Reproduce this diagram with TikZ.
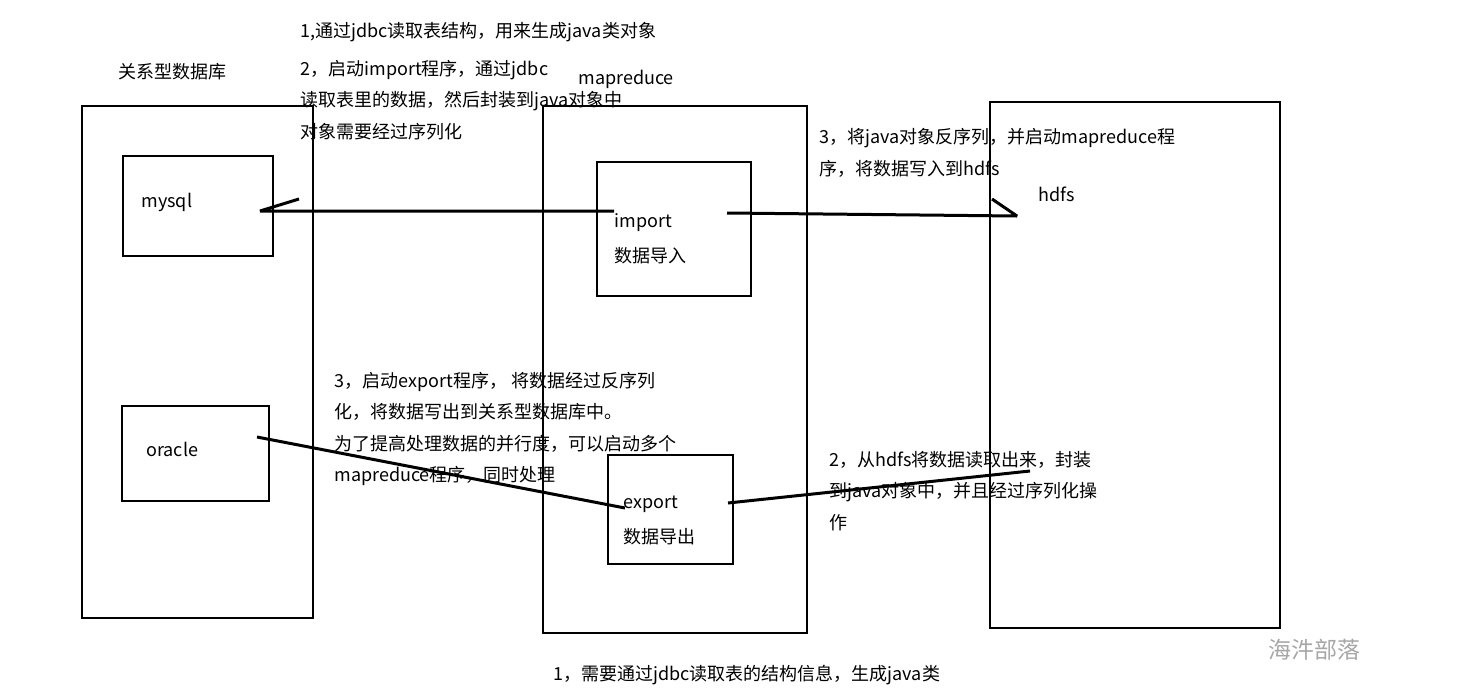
\documentclass[tikz,border=0pt]{standalone}
\usepackage{fontspec}
\setmainfont{Noto Sans CJK SC}
\usetikzlibrary{positioning}
\begin{document}
\begin{tikzpicture}[x=0.5pt,y=-0.5pt,
    font=\fontsize{9}{15.8}\selectfont,
    frame/.style={line width=1.4pt},
    link/.style={line width=1.5pt, line join=bevel},
    txt/.style={anchor=west, inner sep=0pt, align=left},
    wmark/.style={txt, text=black!35, font=\fontsize{11.5}{13}\selectfont}
]
\useasboundingbox (0,0) rectangle (1462,697);

% containers
\draw[frame] (82,106) rectangle (313,618);
\draw[frame] (543,106) rectangle (807,633);
\draw[frame] (990,102) rectangle (1280,628);
\draw[frame] (123,156) rectangle (273,256);
\draw[frame] (122,406) rectangle (269,501);
\draw[frame] (597,162) rectangle (751,296);
\draw[frame] (608,455) rectangle (733,564);

% labels
\node[txt] (rdb) at (118,72) {关系型数据库};
\node[txt] (mr) at (578,79) {mapreduce};
\node[txt] (mysql) at (141,202) {mysql};
\node[txt] (oracle) at (146,449) {oracle};
\node[txt] (imp) at (614,223) {import};
\node[txt] (impcn) at (614,256) {数据导入};
\node[txt] (exp) at (623,504) {export};
\node[txt] (expcn) at (623,537) {数据导出};
\node[txt] (hdfs) at (1038,194) {hdfs};

% notes
\node[txt] (note1) at (300,32) {1,通过jdbc读取表结构，用来生成java类对象};
\node[txt] (note2) at (300,100) {2，启动import程序，通过jdbc\\读取表里的数据，然后封装到java对象中\\对象需要经过序列化};
\node[txt] (note3) at (819,153) {3，将java对象反序列，并启动mapreduce程\\序，将数据写入到hdfs};
\node[txt] (note4) at (334,429) {3，启动export程序， 将数据经过反序列\\化，将数据写出到关系型数据库中。\\为了提高处理数据的并行度，可以启动多个\\mapreduce程序，同时处理};
\node[txt] (note5) at (829,491) {2，从hdfs将数据读取出来，封装\\到java对象中，并且经过序列化操\\作};
\node[txt] (note6) at (553,675) {1，需要通过jdbc读取表的结构信息，生成java类};
\node[wmark] (wm) at (1268,650) {海汼部落};

% connectors
\coordinate (impL) at (614,211);
\coordinate (myR) at (260,211);
\coordinate (myBarb) at (299,199);
\coordinate (impR) at (727,213);
\coordinate (hdIn) at (1017,216);
\coordinate (hdBarb) at (992,199);
\coordinate (orR) at (257,437);
\coordinate (expL) at (625,508);
\coordinate (expR) at (728,503);
\coordinate (hdOut) at (1030,471);

\draw[link] (impL) -- (myR) -- (myBarb);
\draw[link] (impR) -- (hdIn) -- (hdBarb);
\draw[link] (orR) -- (expL);
\draw[link] (expR) -- (hdOut);
\end{tikzpicture}
\end{document}
